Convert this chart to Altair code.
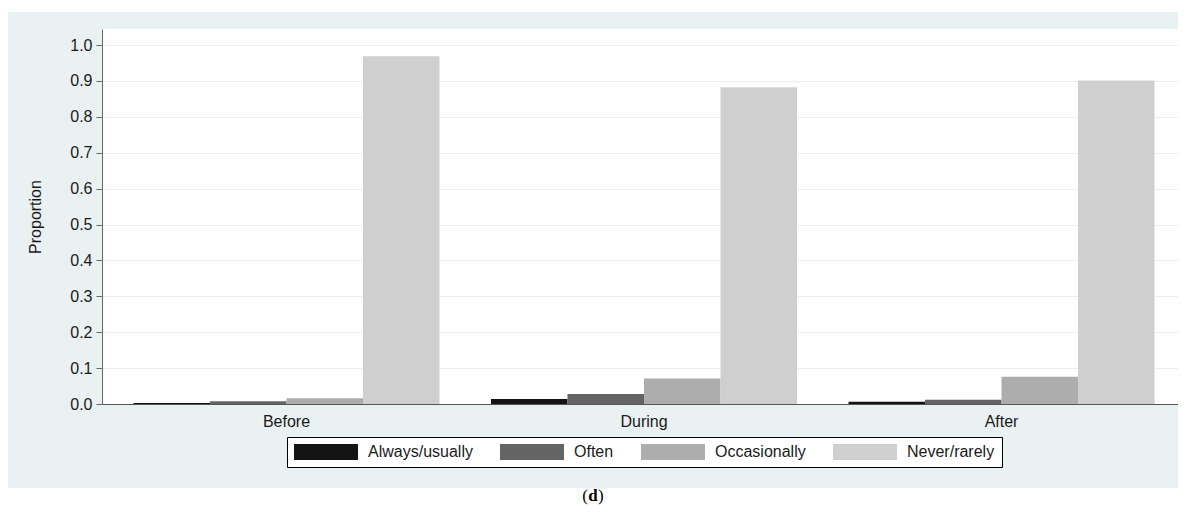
import altair as alt
import pandas as pd

periods = ["Before", "During", "After"]
categories = ["Always/usually", "Often", "Occasionally", "Never/rarely"]
always = [0.003, 0.014, 0.006]
often = [0.008, 0.028, 0.012]
occasionally = [0.016, 0.071, 0.076]
never = [0.969, 0.882, 0.901]
colors = ["#141414", "#646464", "#adadad", "#cfcfcf"]
y_ticks = [0.0, 0.1, 0.2, 0.3, 0.4, 0.5, 0.6, 0.7, 0.8, 0.9, 1.0]
caption = ["(", "d", ")"]

rows = []
for cat, vals in zip(categories, [always, often, occasionally, never]):
    for p, v in zip(periods, vals):
        rows.append({"period": p, "category": cat, "value": v})
df = pd.DataFrame(rows)

W, H = 1076, 375
XR = 1084
PANEL = "#eaf1f2"
FONT = "Liberation Sans"
TXT = "#1a1a1a"

bars = alt.Chart(df).mark_bar().encode(
    x=alt.X("period:N", sort=periods,
            scale=alt.Scale(paddingInner=0.144, paddingOuter=0.088, range=[0, XR]),
            axis=alt.Axis(title=None, labelAngle=0, ticks=False, labelPadding=9,
                          domainColor="#555555", labelFontSize=16, labelFont=FONT,
                          labelColor=TXT, grid=False, zindex=1)),
    xOffset=alt.XOffset("category:N", sort=categories,
                        scale=alt.Scale(paddingInner=0, paddingOuter=0)),
    y=alt.Y("value:Q", scale=alt.Scale(domain=[0, 1.0446], nice=False, zero=True),
            axis=alt.Axis(title="Proportion", values=y_ticks, format=".1f", tickSize=6,
                          tickColor="#666666", domainColor="#666666", labelFontSize=16,
                          labelFont=FONT, labelColor=TXT, labelPadding=4,
                          titleFontSize=16, titleFont=FONT, titleFontWeight="normal",
                          titleColor=TXT, titlePadding=26, gridColor="#e9f0f1",
                          gridWidth=1.2)),
    color=alt.Color("category:N", sort=categories,
                    scale=alt.Scale(domain=categories, range=colors),
                    legend=alt.Legend(title=None, orient="none", legendX=185, legendY=408,
                                      direction="horizontal", columns=4,
                                      symbolType="M-1,-1L7,-1L7,1L-1,1Z",
                                      symbolSize=256, symbolStrokeWidth=0, symbolOpacity=1,
                                      labelFontSize=16, labelFont=FONT, labelColor=TXT,
                                      labelOffset=58, columnPadding=27, padding=7,
                                      strokeColor="#000000", fillColor="#ffffff")),
)

one = alt.Data(values=[{"k": 1}])
white_bottom = alt.Chart(one).mark_rect(color="white").encode(
    x=alt.value(-94), x2=alt.value(W + 10), y=alt.value(H + 84), y2=alt.value(H + 130))
white_top = alt.Chart(one).mark_rect(color="white").encode(
    x=alt.value(-94), x2=alt.value(W + 10), y=alt.value(-25), y2=alt.value(-17))

cap_y = H + 92
cx = 491
lp = alt.Chart(one).mark_text(text=caption[0], align="right", baseline="middle",
                              font="Liberation Serif", fontSize=17, color="black").encode(
    x=alt.value(cx - 5), y=alt.value(cap_y))
dd = alt.Chart(one).mark_text(text=caption[1], align="center", baseline="middle",
                              font="Liberation Serif", fontSize=17, fontWeight="bold",
                              color="black").encode(
    x=alt.value(cx), y=alt.value(cap_y))
rp = alt.Chart(one).mark_text(text=caption[2], align="left", baseline="middle",
                              font="Liberation Serif", fontSize=17, color="black").encode(
    x=alt.value(cx + 5), y=alt.value(cap_y))

chart = alt.layer(bars, white_bottom, white_top, lp, dd, rp).properties(
    width=W, height=H,
    autosize=alt.AutoSizeParams(type="none"),
    padding={"left": 94, "top": 21, "right": 0, "bottom": 103},
    background=PANEL,
).configure_view(stroke=None, fill="white")

chart.save("out.html", embed_options={"renderer": "svg", "actions": False})
